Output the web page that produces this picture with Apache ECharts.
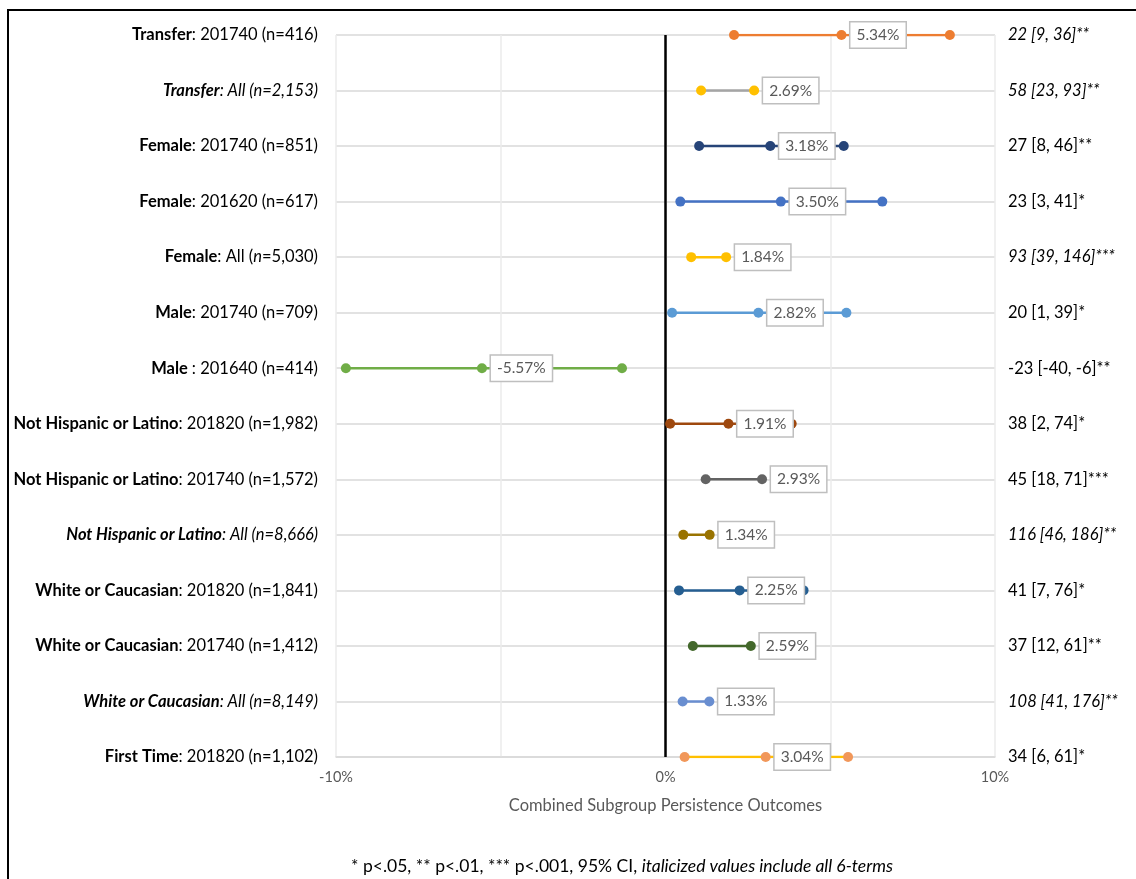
<!DOCTYPE html>
<html>
<head>
<meta charset="utf-8">
<script src="https://cdn.jsdelivr.net/npm/echarts@6/dist/echarts.min.js"></script>
<style>
html,body{margin:0;padding:0;background:#fff;}
#chart{width:1136px;height:879px;}
</style>
</head>
<body>
<div id="chart"></div>
<script>
// ---------- data ----------
const categories = [
  "Transfer: 201740 (n=416)",
  "Transfer: All (n=2,153)",
  "Female: 201740 (n=851)",
  "Female: 201620 (n=617)",
  "Female: All (n=5,030)",
  "Male: 201740 (n=709)",
  "Male : 201640 (n=414)",
  "Not Hispanic or Latino: 201820 (n=1,982)",
  "Not Hispanic or Latino: 201740 (n=1,572)",
  "Not Hispanic or Latino: All (n=8,666)",
  "White or Caucasian: 201820 (n=1,841)",
  "White or Caucasian: 201740 (n=1,412)",
  "White or Caucasian: All (n=8,149)",
  "First Time: 201820 (n=1,102)"
];
const lows   = [2.08, 1.08, 1.02, 0.45, 0.78, 0.20, -9.70, 0.14, 1.22, 0.54, 0.41, 0.83, 0.52, 0.58];
const points = [5.34, 2.69, 3.18, 3.50, 1.84, 2.82, -5.57, 1.91, 2.93, 1.34, 2.25, 2.59, 1.33, 3.04];
const highs  = [8.63, null, 5.41, 6.58, null, 5.49, -1.32, 3.83, null, null, 4.19, null, null, 5.54];
const ciLabels = [
  "22 [9, 36]**",
  "58 [23, 93]**",
  "27 [8, 46]**",
  "23 [3, 41]*",
  "93 [39, 146]***",
  "20 [1, 39]*",
  "-23 [-40, -6]**",
  "38 [2, 74]*",
  "45 [18, 71]***",
  "116 [46, 186]**",
  "41 [7, 76]*",
  "37 [12, 61]**",
  "108 [41, 176]**",
  "34 [6, 61]*"
];
const italicLeft  = [1, 9, 12];
const italicRight = [0, 1, 4, 9, 12];
const xTicks = [-10, 0, 10];
const xAxisTitle = "Combined Subgroup Persistence Outcomes";
const footnoteMain = "* p<.05, ** p<.01, *** p<.001, 95% CI, ";
const footnoteItalic = "italicized values include all 6-terms";

// ---------- styles ----------
const lineColors   = ["#ED7D31","#A5A5A5","#264478","#4472C4","#FFC000","#5B9BD5","#70AD47","#9E480E","#636363","#997300","#255E91","#43682B","#698ED0","#FFC000"];
const markerColors = ["#ED7D31","#FFC000","#264478","#4472C4","#FFC000","#5B9BD5","#70AD47","#9E480E","#636363","#997300","#255E91","#43682B","#698ED0","#F1975A"];
const FONT = "Lato";
const LFS = 16.5;

function leftLabel(value, idx) {
  const k = value.indexOf(":");
  const head = value.slice(0, k);
  let rest = value.slice(k);
  const it = italicLeft.indexOf(idx) >= 0;
  if (!it && rest.indexOf("All (n=") >= 0) {
    rest = rest.replace("(n=", "(");
    const parts = rest.split("(");
    return "{b|" + head + "}{r|" + parts[0] + "(}{i|n}{r|=" + parts[1] + "}";
  }
  return it ? "{bi|" + head + "}{i|" + rest + "}" : "{b|" + head + "}{r|" + rest + "}";
}

const series = categories.map((c, i) => {
  const data = [[lows[i], i]];
  data.push({
    value: [points[i], i],
    label: {
      show: true,
      position: "right",
      distance: 4,
      formatter: points[i].toFixed(2) + "%",
      fontFamily: FONT,
      fontSize: 15.5,
      color: "#595959",
      backgroundColor: "#fff",
      borderColor: "#BFBFBF",
      borderWidth: 1.5,
      padding: [5, 6, 4, 6]
    }
  });
  if (highs[i] !== null) data.push([highs[i], i]);
  const s = {
    type: "line",
    data: data,
    symbol: "circle",
    symbolSize: 10,
    showSymbol: true,
    silent: true,
    z: 3,
    lineStyle: { color: lineColors[i], width: 2.5 },
    itemStyle: { color: markerColors[i] },
    label: { show: false }
  };
  if (i === 0) {
    s.markLine = {
      silent: true,
      symbol: "none",
      label: { show: false },
      lineStyle: { color: "#000", width: 2.5, type: "solid" },
      data: [{ xAxis: 0 }],
      z: 2
    };
  }
  return s;
});

const chart = echarts.init(document.getElementById("chart"));
chart.setOption({
  animation: false,
  backgroundColor: "#fff",
  grid: { left: 336, right: 141, top: 35, bottom: 122 },
  xAxis: {
    type: "value",
    min: -10, max: 10, interval: 5,
    axisLine: { show: true, onZero: false, lineStyle: { color: "#D9D9D9", width: 1.5 } },
    axisTick: { show: false },
    splitLine: { show: true, lineStyle: { color: "#EBEBEB", width: 1.5 } },
    axisLabel: {
      margin: 13,
      fontFamily: FONT, fontSize: 14.5, color: "#595959",
      formatter: v => (xTicks.indexOf(v) >= 0 ? v + "%" : "")
    },
    name: xAxisTitle,
    nameLocation: "middle",
    nameGap: 40,
    nameTextStyle: { fontFamily: FONT, fontSize: 16.5, color: "#595959" }
  },
  yAxis: [
    {
      type: "category",
      data: categories,
      inverse: true,
      boundaryGap: false,
      axisLine: { show: false, onZero: false },
      axisTick: { show: false },
      splitLine: { show: true, lineStyle: { color: "#D9D9D9", width: 1.5 } },
      axisLabel: {
        margin: 18,
        formatter: leftLabel,
        rich: {
          b:  { fontFamily: FONT, fontSize: LFS, fontWeight: "bold", color: "#000" },
          bi: { fontFamily: FONT, fontSize: LFS, fontWeight: "bold", fontStyle: "italic", color: "#000" },
          r:  { fontFamily: FONT, fontSize: LFS, color: "#000" },
          i:  { fontFamily: FONT, fontSize: LFS, fontStyle: "italic", color: "#000" }
        }
      }
    },
    {
      type: "category",
      data: categories,
      inverse: true,
      boundaryGap: false,
      position: "right",
      axisLine: { show: false, onZero: false },
      axisTick: { show: false },
      splitLine: { show: false },
      axisLabel: {
        margin: 13,
        formatter: (v, idx) => (italicRight.indexOf(idx) >= 0 ? "{i|" + ciLabels[idx] + "}" : "{r|" + ciLabels[idx] + "}"),
        rich: {
          r: { fontFamily: FONT, fontSize: LFS, color: "#000" },
          i: { fontFamily: FONT, fontSize: LFS, fontStyle: "italic", color: "#000" }
        }
      }
    }
  ],
  series: series,
  graphic: [
    {
      type: "rect",
      shape: { x: 8, y: 10, width: 1200, height: 1000 },
      style: { fill: "none", stroke: "#000", lineWidth: 2 },
      silent: true
    },
    {
      type: "text",
      x: 622,
      y: 866,
      style: {
        text: "{a|" + footnoteMain + "}{b|" + footnoteItalic + "}",
        align: "center",
        verticalAlign: "middle",
        rich: {
          a: { fontFamily: FONT, fontSize: 17.5, fill: "#000", color: "#000" },
          b: { fontFamily: FONT, fontSize: 17.5, fontStyle: "italic", fill: "#000", color: "#000" }
        }
      }
    }
  ]
});
</script>
</body>
</html>
